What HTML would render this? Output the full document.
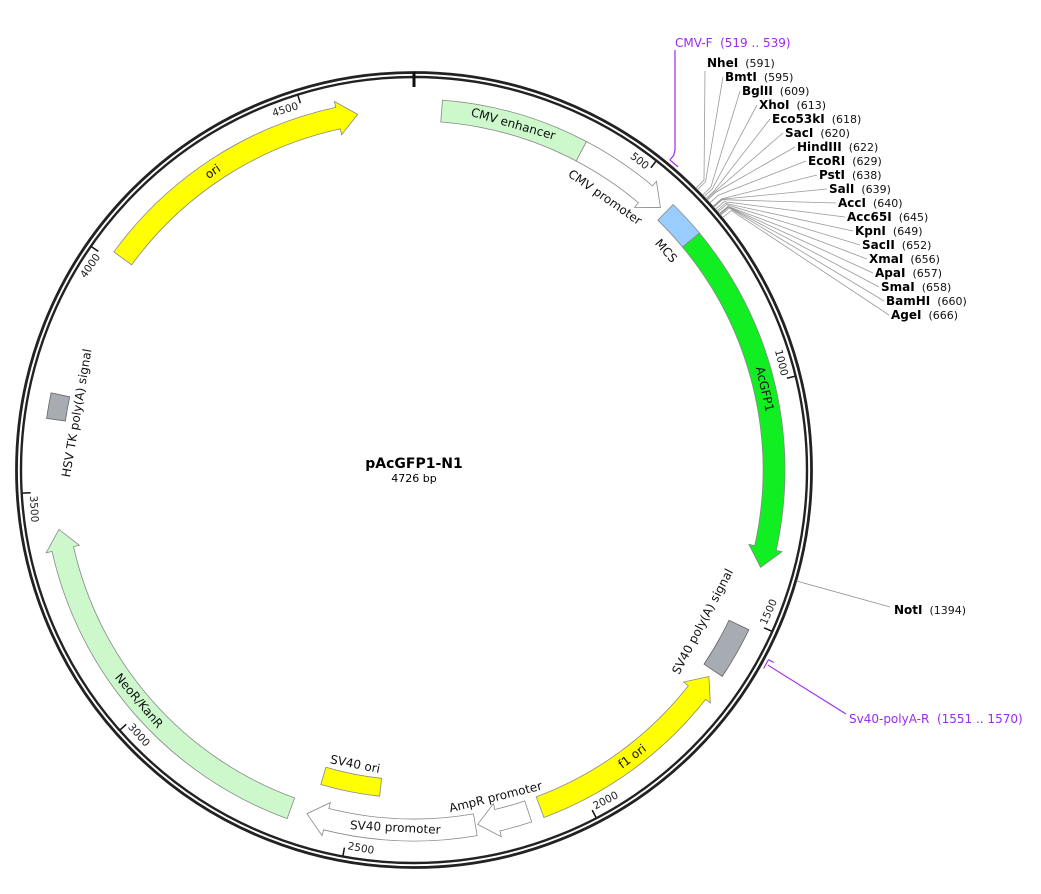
<!DOCTYPE html>
<html><head><meta charset="utf-8"><style>
html,body{margin:0;padding:0;background:#fff;width:1041px;height:894px;overflow:hidden}
svg{display:block;font-family:"DejaVu Sans","Liberation Sans",sans-serif}
.t{font-size:10.5px;fill:#222}
.f{font-size:12px;fill:#111}
.en{font-size:12px;font-weight:bold;fill:#000}
.ep{font-size:11px;fill:#111}
.pr{font-size:12px;fill:#9a2bf0}
</style></head><body>
<svg id="s" width="1041" height="894" viewBox="0 0 1041 894" xmlns="http://www.w3.org/2000/svg">
<g id="shapes"></g>
<circle cx="414" cy="470" r="397.5" fill="none" stroke="#222" stroke-width="2.8"/>
<circle cx="414" cy="470" r="393" fill="none" stroke="#222" stroke-width="2.4"/>
<line x1="414" y1="72" x2="414" y2="87" stroke="#111" stroke-width="3"/>
<g id="lines"></g>

<g class="t" dominant-baseline="central">
<text transform="translate(414,470) rotate(38.09) translate(0,-382)" x="-3" text-anchor="end">500</text>
<text transform="translate(414,470) rotate(76.17) translate(0,-382)" x="-3" text-anchor="end">1000</text>
<text transform="translate(414,470) rotate(114.26) translate(0,-382) rotate(180)" x="3" text-anchor="start">1500</text>
<text transform="translate(414,470) rotate(152.35) translate(0,-382) rotate(180)" x="3" text-anchor="start">2000</text>
<text transform="translate(414,470) rotate(190.44) translate(0,-382) rotate(180)" x="3" text-anchor="start">2500</text>
<text transform="translate(414,470) rotate(228.52) translate(0,-382) rotate(180)" x="3" text-anchor="start">3000</text>
<text transform="translate(414,470) rotate(266.6) translate(0,-382) rotate(180)" x="3" text-anchor="start">3500</text>
<text transform="translate(414,470) rotate(304.7) translate(0,-382)" x="-3" text-anchor="end">4000</text>
<text transform="translate(414,470) rotate(342.8) translate(0,-382)" x="-3" text-anchor="end">4500</text>
</g>

<g class="f" text-anchor="middle" dominant-baseline="central">
<text transform="translate(414,470) rotate(326) translate(0,-360)">ori</text>
<text transform="translate(414,470) rotate(16) translate(0,-360)">CMV enhancer</text>
<text transform="translate(414,470) rotate(35) translate(0,-333)">CMV promoter</text>
<text transform="translate(414,470) rotate(49) translate(0,-334)">MCS</text>
<text transform="translate(414,470) rotate(77) translate(0,-360)">AcGFP1</text>
<text transform="translate(414,470) rotate(117.7) translate(0,-326) rotate(180)">SV40 poly(A) signal</text>
<text transform="translate(414,470) rotate(142.7) translate(0,-360) rotate(180)">f1 ori</text>
<text transform="translate(414,470) rotate(166) translate(0,-337) rotate(180)">AmpR promoter</text>
<text transform="translate(414,470) rotate(183) translate(0,-358) rotate(180)">SV40 promoter</text>
<text transform="translate(414,470) rotate(191.3) translate(0,-300) rotate(180)">SV40 ori</text>
<text transform="translate(414,470) rotate(230) translate(0,-359) rotate(180)">NeoR/KanR</text>
<text transform="translate(414,470) rotate(279.6) translate(0,-342)">HSV TK poly(A) signal</text>
</g>

<text x="414" y="468" text-anchor="middle" style="font-size:14px;font-weight:bold">pAcGFP1-N1</text>
<text x="414" y="482" text-anchor="middle" style="font-size:11px">4726 bp</text>

<g>
<text x="707" y="67"><tspan class="en">NheI</tspan><tspan class="ep" dx="7">(591)</tspan></text>
<text x="725" y="81"><tspan class="en">BmtI</tspan><tspan class="ep" dx="7">(595)</tspan></text>
<text x="742" y="95"><tspan class="en">BglII</tspan><tspan class="ep" dx="7">(609)</tspan></text>
<text x="759" y="109"><tspan class="en">XhoI</tspan><tspan class="ep" dx="7">(613)</tspan></text>
<text x="772" y="123"><tspan class="en">Eco53kI</tspan><tspan class="ep" dx="7">(618)</tspan></text>
<text x="785" y="137"><tspan class="en">SacI</tspan><tspan class="ep" dx="7">(620)</tspan></text>
<text x="797" y="151"><tspan class="en">HindIII</tspan><tspan class="ep" dx="7">(622)</tspan></text>
<text x="808" y="165"><tspan class="en">EcoRI</tspan><tspan class="ep" dx="7">(629)</tspan></text>
<text x="819" y="179"><tspan class="en">PstI</tspan><tspan class="ep" dx="7">(638)</tspan></text>
<text x="829" y="193"><tspan class="en">SalI</tspan><tspan class="ep" dx="7">(639)</tspan></text>
<text x="838" y="207"><tspan class="en">AccI</tspan><tspan class="ep" dx="7">(640)</tspan></text>
<text x="847" y="221"><tspan class="en">Acc65I</tspan><tspan class="ep" dx="7">(645)</tspan></text>
<text x="855" y="235"><tspan class="en">KpnI</tspan><tspan class="ep" dx="7">(649)</tspan></text>
<text x="862" y="249"><tspan class="en">SacII</tspan><tspan class="ep" dx="7">(652)</tspan></text>
<text x="869" y="263"><tspan class="en">XmaI</tspan><tspan class="ep" dx="7">(656)</tspan></text>
<text x="875" y="277"><tspan class="en">ApaI</tspan><tspan class="ep" dx="7">(657)</tspan></text>
<text x="881" y="291"><tspan class="en">SmaI</tspan><tspan class="ep" dx="7">(658)</tspan></text>
<text x="886" y="305"><tspan class="en">BamHI</tspan><tspan class="ep" dx="7">(660)</tspan></text>
<text x="891" y="319"><tspan class="en">AgeI</tspan><tspan class="ep" dx="7">(666)</tspan></text>
<text x="894" y="614"><tspan class="en">NotI</tspan><tspan class="ep" dx="7">(1394)</tspan></text>
</g>
<text class="pr" x="675" y="47" xml:space="preserve">CMV-F  (519 .. 539)</text>
<text class="pr" x="849" y="723" xml:space="preserve">Sv40-polyA-R  (1551 .. 1570)</text>
</svg>
<script>
(function(){
var cx=414,cy=470,NS="http://www.w3.org/2000/svg";
function P(r,a){var t=a*Math.PI/180;return [cx+r*Math.sin(t),cy-r*Math.cos(t)];}
function s(p){return p[0].toFixed(2)+","+p[1].toFixed(2);}
function band(a1,a2,r1,r2){var l=(a2-a1)>180?1:0;
return "M"+s(P(r2,a1))+"A"+r2+","+r2+" 0 "+l+" 1 "+s(P(r2,a2))+"L"+s(P(r1,a2))+"A"+r1+","+r1+" 0 "+l+" 0 "+s(P(r1,a1))+"Z";}
function arrow(a1,a2,r1,r2,cw){var rm=(r1+r2)/2,h=20/rm*180/Math.PI,l=(a2-a1-h)>180?1:0;
if(cw){var b=a2-h;return "M"+s(P(r2,a1))+"A"+r2+","+r2+" 0 "+l+" 1 "+s(P(r2,b))+"L"+s(P(r2+6,b))+"L"+s(P(rm,a2))+"L"+s(P(r1-6,b))+"L"+s(P(r1,b))+"A"+r1+","+r1+" 0 "+l+" 0 "+s(P(r1,a1))+"Z";}
var b=a1+h;return "M"+s(P(r2,a2))+"A"+r2+","+r2+" 0 "+l+" 0 "+s(P(r2,b))+"L"+s(P(r2+6,b))+"L"+s(P(rm,a1))+"L"+s(P(r1-6,b))+"L"+s(P(r1,b))+"A"+r1+","+r1+" 0 "+l+" 1 "+s(P(r1,a2))+"Z";}
var g=document.getElementById("shapes"),L=document.getElementById("lines");
function add(par,d,fill,stroke,sw){var e=document.createElementNS(NS,"path");e.setAttribute("d",d);e.setAttribute("fill",fill);e.setAttribute("stroke",stroke);e.setAttribute("stroke-width",sw);par.appendChild(e);}
var R1=349,R2=371;
add(g,arrow(306,351,R1,R2,1),"#ffff00","#888",0.8);
add(g,band(4.4,27.7,R1,R2),"#ccf8cc","#888",0.8);
add(g,arrow(27.7,43.2,R1,R2,1),"#fff","#888",0.8);
add(g,band(44.3,50.3,R1,R2),"#99ccff","#888",0.8);
add(g,arrow(50.3,105.7,R1,R2,1),"#11ee22","#888",0.8);
add(g,band(115.5,123.8,R1,R2),"#a7abb2","#666",0.8);
add(g,arrow(125,159.5,R1,R2,0),"#ffff00","#888",0.8);
add(g,arrow(161.5,169.8,R1,R2,1),"#fff","#888",0.8);
add(g,arrow(170.2,197.3,R1,R2,1),"#fff","#888",0.8);
add(g,band(186,196.5,310,328),"#ffff00","#888",0.8);
add(g,arrow(200,260.5,R1,R2,1),"#ccf8cc","#888",0.8);
add(g,band(278,282,R1+3,R2),"#a7abb2","#666",0.8);
for(var n=1;n<=9;n++){var a=n*500*360/4726;add(L,"M"+s(P(392,a))+"L"+s(P(384,a)),"none","#111",1.5);}
var en=[[591,707,67],[595,725,81],[609,742,95],[613,759,109],[618,772,123],[620,785,137],[622,797,151],[629,808,165],[638,819,179],[639,829,193],[640,838,207],[645,847,221],[649,855,235],[652,862,249],[656,869,263],[657,875,277],[658,881,291],[660,886,305],[666,891,319]];
en.forEach(function(e,i){var a=e[0]*360/4726;var ex=e[1]-2,ey=(i==0)?e[2]+4:e[2]-4;
add(L,"M"+ex+","+ey+"L"+s(P(410,a))+"L"+s(P(398.5,a)),"none","#999",0.8);});
var an=1394*360/4726;add(L,"M"+s(P(398.5,an))+"L890,607","none","#999",0.9);
var a1=519*360/4726,a2=539*360/4726;
add(L,"M"+s(P(402,a1))+"A402,402 0 0 1 "+s(P(402,a2))+"M"+s(P(402,a1))+"L"+s(P(408,a1))+"L675,150L675,50","none","#9a2bf0",1.2);
var b1=1551*360/4726,b2=1570*360/4726;
add(L,"M"+s(P(402,b1))+"A402,402 0 0 1 "+s(P(402,b2))+"M"+s(P(402,b1))+"L"+s(P(408,b1))+"M"+s(P(404,(b1+b2)/2))+"L846,714","none","#9a2bf0",1.1);
})();
</script>
</body></html>
